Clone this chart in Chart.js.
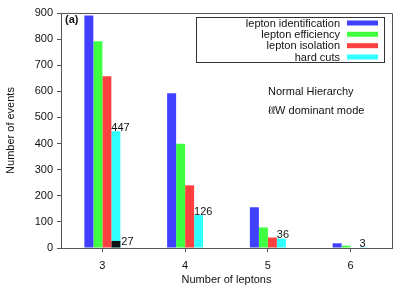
<!DOCTYPE html>
<html>
<head>
<meta charset="utf-8">
<script src="https://cdn.jsdelivr.net/npm/chart.js@4"></script>
<style>
  html, body { margin: 0; padding: 0; background: #fff; }
  #wrap { width: 413px; height: 289px; }
</style>
</head>
<body>
<div id="wrap"><canvas id="grafico" width="413" height="289"></canvas></div>
<script>
const categorias = ['3', '4', '5', '6']
const leptonId = [890, 593, 156, 18]
const leptonEff = [792, 399, 79, 9]
const leptonIso = [658, 240, 40, 2]
const hardCuts = [447, 126, 36, 3]
const hardCutsLabel = ['447', '126', '36', '3']
const extra = [27, null, null, null]
const extraLabel = ['27', null, null, null]
const legendas = ['lepton identification', 'lepton efficiency', 'lepton isolation', 'hard cuts']
const cores = ['#4040ff', '#40ff40', '#ff4040', '#30ffff']
const yTicks = [0, 100, 200, 300, 400, 500, 600, 700, 800, 900]

const fonte = "'Liberation Sans', Arial, Helvetica, sans-serif"

const barraBase = {
    categoryPercentage: 0.435,
    barPercentage: 1.0,
    borderWidth: 0
}

// black bar shares the 'd' slot with hard cuts and is drawn over it
const datasets = [
    { ...barraBase, label: legendas[0], data: leptonId, stack: 'a', order: 0, backgroundColor: cores[0] },
    { ...barraBase, label: legendas[1], data: leptonEff, stack: 'b', order: 0, backgroundColor: cores[1] },
    { ...barraBase, label: legendas[2], data: leptonIso, stack: 'c', order: 0, backgroundColor: cores[2] },
    { ...barraBase, label: legendas[3], data: hardCuts, stack: 'd', order: 2, backgroundColor: cores[3], valores: hardCutsLabel, tipo: 'topo' },
    { ...barraBase, label: '', data: extra, stack: 'd', order: 1, backgroundColor: '#111111', valores: extraLabel, tipo: 'lado' }
]

const extras = {
    id: 'extras',
    afterDraw(chart) {
        const c = chart.ctx
        const area = chart.chartArea
        c.save()

        // frame
        c.strokeStyle = '#555'
        c.lineWidth = 1
        c.beginPath()
        c.moveTo(area.left, Math.round(area.top) + 0.5)
        c.lineTo(Math.round(area.right) + 0.5, Math.round(area.top) + 0.5)
        c.lineTo(Math.round(area.right) + 0.5, area.bottom)
        c.stroke()

        // value labels
        c.fillStyle = '#111'
        c.font = '11px ' + fonte
        chart.data.datasets.forEach((ds, i) => {
            if (!ds.valores) return
            const meta = chart.getDatasetMeta(i)
            meta.data.forEach((bar, j) => {
                const txt = ds.valores[j]
                if (!txt) return
                c.textAlign = 'left'
                if (ds.tipo === 'topo') {
                    c.textBaseline = 'bottom'
                    c.fillText(txt, bar.x - bar.width / 2, bar.y + 2)
                } else {
                    c.textBaseline = 'middle'
                    c.fillText(txt, bar.x + bar.width / 2 + 1, bar.y + 1)
                }
            })
        })

        // legend
        c.strokeStyle = '#333'
        c.strokeRect(196.5, 17.5, 188, 45)
        const linhas = [23, 34.3, 45.7, 57]
        c.font = '11px ' + fonte
        c.textAlign = 'right'
        c.textBaseline = 'middle'
        chart.data.datasets.slice(0, 4).forEach((ds, k) => {
            c.fillStyle = '#111'
            c.fillText(ds.label, 340, linhas[k] + 0.5)
            c.fillStyle = ds.backgroundColor
            c.fillRect(347, linhas[k] - 2.5, 31, 5)
        })

        // notes
        c.fillStyle = '#111'
        c.textAlign = 'left'
        c.font = 'bold 11px ' + fonte
        c.fillText('(a)', 65, 20)
        c.font = '11px ' + fonte
        c.fillText('Normal Hierarchy', 268, 92)
        c.fillText('\u2113\u2113W dominant mode', 268, 111)

        c.restore()
    }
}

const chart = new Chart(document.getElementById('grafico'), {
    type: 'bar',
    data: {
        labels: categorias,
        datasets: datasets
    },
    options: {
        responsive: false,
        animation: false,
        layout: {
            padding: { left: 0, top: 13, right: 21, bottom: 0 }
        },
        plugins: {
            legend: { display: false },
            tooltip: { enabled: false }
        },
        scales: {
            x: {
                offset: true,
                grid: {
                    offset: false,
                    drawOnChartArea: false,
                    tickLength: 4,
                    color: '#555'
                },
                border: { color: '#555' },
                ticks: {
                    padding: 7,
                    color: '#111',
                    font: { family: fonte, size: 11 }
                },
                title: {
                    display: true,
                    text: 'Number of leptons',
                    color: '#111',
                    padding: { top: 2, bottom: 2 },
                    font: { family: fonte, size: 11 }
                },
                afterFit: (s) => { s.height = 41 }
            },
            y: {
                stacked: false,
                min: 0,
                max: 900,
                afterBuildTicks: (s) => { s.ticks = yTicks.map(v => ({ value: v })) },
                grid: {
                    drawOnChartArea: false,
                    tickLength: 4,
                    color: '#555'
                },
                border: { color: '#555' },
                ticks: {
                    padding: 4,
                    color: '#111',
                    font: { family: fonte, size: 11 }
                },
                title: {
                    display: true,
                    text: 'Number of events',
                    color: '#111',
                    padding: { top: 4, bottom: 4 },
                    font: { family: fonte, size: 11 }
                },
                afterFit: (s) => { s.width = 61 }
            }
        }
    },
    plugins: [extras]
})
</script>
</body>
</html>
